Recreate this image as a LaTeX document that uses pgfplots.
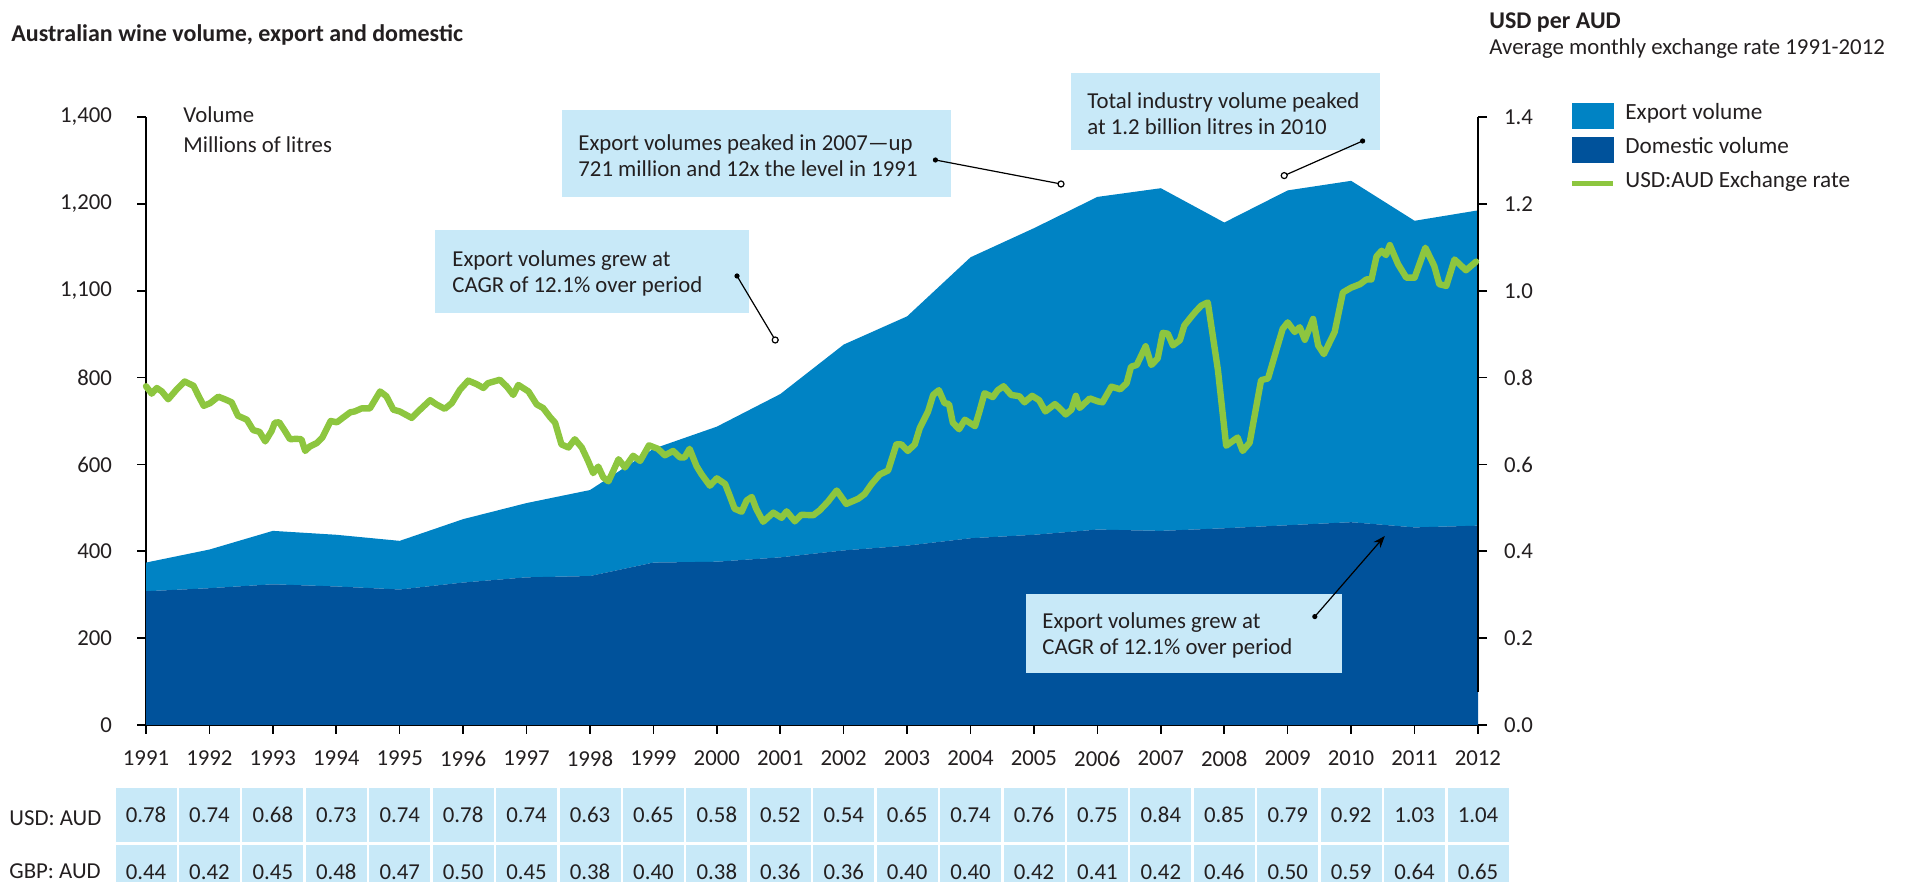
\documentclass[border=0pt]{standalone}
\usepackage{fontspec}
\setmainfont{Carlito}
\usepackage{pgfplots}
\pgfplotsset{compat=1.18}
\usepackage{pgfplotstable}
\usetikzlibrary{arrows.meta}

\definecolor{expblue}{HTML}{0083C4}
\definecolor{domblue}{HTML}{00529B}
\definecolor{fxgreen}{HTML}{8DC63F}
\definecolor{boxblue}{HTML}{C8E9F8}
\definecolor{txt}{HTML}{231F20}

% volumes, millions of litres
\pgfplotstableread{
year domestic export
1991 308 66
1992 315 89
1993 324 123
1994 319 119
1995 312 112
1996 328 146
1997 340 171
1998 343 198
1999 374 262
2000 376 311
2001 386 376
2002 402 474
2003 413 528
2004 430 647
2005 438 706
2006 450 766
2007 447 789
2008 453 704
2009 460 771
2010 467 786
2011 455 706
2012 459 726
}\volumes

% yearly averages for the table under the chart
\pgfplotstableread{
year usd gbp
1991 0.78 0.44
1992 0.74 0.42
1993 0.68 0.45
1994 0.73 0.48
1995 0.74 0.47
1996 0.78 0.50
1997 0.74 0.45
1998 0.63 0.38
1999 0.65 0.40
2000 0.58 0.38
2001 0.52 0.36
2002 0.54 0.36
2003 0.65 0.40
2004 0.74 0.40
2005 0.76 0.42
2006 0.75 0.41
2007 0.84 0.42
2008 0.85 0.46
2009 0.79 0.50
2010 0.92 0.59
2011 1.03 0.64
2012 1.04 0.65
}\rates

% monthly USD per AUD
\pgfplotstableread{
t v
1991.00 0.780
1991.09 0.763
1991.17 0.776
1991.25 0.768
1991.35 0.750
1991.48 0.772
1991.61 0.791
1991.75 0.781
1991.82 0.760
1991.91 0.735
1992.01 0.741
1992.14 0.756
1992.26 0.749
1992.35 0.743
1992.45 0.712
1992.59 0.703
1992.69 0.679
1992.79 0.675
1992.88 0.653
1992.98 0.677
1993.03 0.696
1993.10 0.697
1993.19 0.677
1993.27 0.658
1993.37 0.659
1993.45 0.658
1993.51 0.631
1993.58 0.641
1993.69 0.649
1993.78 0.662
1993.91 0.700
1994.01 0.697
1994.10 0.707
1994.22 0.720
1994.29 0.722
1994.40 0.729
1994.53 0.729
1994.69 0.768
1994.79 0.757
1994.90 0.726
1995.00 0.722
1995.19 0.707
1995.32 0.726
1995.48 0.748
1995.58 0.738
1995.71 0.728
1995.82 0.741
1995.95 0.772
1996.08 0.793
1996.21 0.785
1996.32 0.776
1996.39 0.787
1996.58 0.795
1996.69 0.779
1996.79 0.760
1996.87 0.783
1997.03 0.768
1997.16 0.738
1997.26 0.730
1997.37 0.709
1997.45 0.696
1997.55 0.646
1997.66 0.639
1997.76 0.658
1997.87 0.639
1997.97 0.608
1998.05 0.580
1998.13 0.595
1998.21 0.570
1998.29 0.561
1998.37 0.586
1998.45 0.612
1998.55 0.593
1998.68 0.620
1998.79 0.608
1998.93 0.644
1999.07 0.636
1999.18 0.621
1999.31 0.631
1999.42 0.616
1999.49 0.616
1999.57 0.636
1999.68 0.596
1999.76 0.577
1999.89 0.551
2000.00 0.568
2000.13 0.555
2000.20 0.529
2000.28 0.498
2000.39 0.491
2000.47 0.517
2000.55 0.525
2000.62 0.498
2000.73 0.468
2000.89 0.489
2001.02 0.477
2001.10 0.492
2001.23 0.469
2001.33 0.484
2001.52 0.483
2001.62 0.494
2001.75 0.514
2001.89 0.540
2002.04 0.509
2002.23 0.521
2002.33 0.532
2002.44 0.555
2002.57 0.577
2002.70 0.586
2002.83 0.646
2002.91 0.646
2003.01 0.631
2003.12 0.646
2003.20 0.684
2003.33 0.722
2003.41 0.760
2003.50 0.771
2003.59 0.741
2003.66 0.739
2003.72 0.696
2003.82 0.681
2003.91 0.703
2004.07 0.688
2004.14 0.722
2004.22 0.764
2004.35 0.755
2004.43 0.771
2004.52 0.780
2004.64 0.760
2004.77 0.757
2004.85 0.743
2004.97 0.758
2005.08 0.748
2005.18 0.722
2005.33 0.739
2005.40 0.730
2005.50 0.715
2005.59 0.726
2005.66 0.758
2005.72 0.730
2005.88 0.752
2006.01 0.745
2006.08 0.743
2006.22 0.779
2006.36 0.773
2006.46 0.787
2006.53 0.825
2006.62 0.829
2006.76 0.872
2006.85 0.829
2006.95 0.844
2007.03 0.903
2007.11 0.901
2007.19 0.874
2007.30 0.886
2007.37 0.920
2007.48 0.940
2007.56 0.954
2007.64 0.966
2007.74 0.973
2007.90 0.817
2008.03 0.643
2008.21 0.662
2008.29 0.631
2008.40 0.650
2008.58 0.794
2008.69 0.798
2008.82 0.863
2008.92 0.912
2009.00 0.927
2009.11 0.905
2009.19 0.916
2009.27 0.887
2009.40 0.935
2009.48 0.874
2009.57 0.854
2009.74 0.905
2009.87 0.996
2010.00 1.007
2010.14 1.015
2010.24 1.026
2010.32 1.026
2010.40 1.079
2010.48 1.092
2010.55 1.082
2010.61 1.105
2010.74 1.061
2010.87 1.030
2011.00 1.030
2011.17 1.099
2011.31 1.057
2011.39 1.015
2011.50 1.011
2011.63 1.072
2011.81 1.047
2011.97 1.067
}\fx

\newcommand\bodyfont{\fontsize{11.4pt}{13pt}\selectfont}

\pgfplotsset{
  common/.style={
    at={(73pt,78.5pt)}, anchor=south west,
    width=666pt, height=304pt, scale only axis,
    xmin=1991, xmax=2012,
    tick align=outside, major tick length=4.5pt,
    every tick/.style={black, line width=0.8pt},
    axis line style={black, line width=1pt},
    tick label style={font=\bodyfont, text=txt},
  },
  ratecells/.style={forget plot, only marks, mark=*, mark size=0pt,
    mark options={draw=boxblue, fill=boxblue},
    point meta=explicit symbolic, nodes near coords={\pgfplotspointmeta},
    every node near coord/.style={anchor=center, fill=boxblue, text=txt,
      font=\bodyfont, minimum width=30.5pt, minimum height=27pt, inner sep=0pt}},
}

\begin{document}
\begin{tikzpicture}[font=\bodyfont]
\path[use as bounding box, clip] (0pt,0pt) rectangle (952.5pt,441pt);

\begin{axis}[common,
  ymin=0, ymax=1400,
  axis x line*=bottom, axis y line*=left,
  xtick={1991,...,2012},
  xticklabels={1991,1992,1993,1994,1995,1996,1997,1998,1999,2000,2001,2002,2003,2004,2005,2006,2007,2008,2009,2010,2011,2012},
  xticklabel style={yshift=-5pt},
  ytick={0,200,400,600,800,1000,1200,1400},
  yticklabels={0,200,400,600,800,{1,100},{1,200},{1,400}},
  yticklabel style={xshift=-9pt},
  stack plots=y,
]
\addplot[fill=domblue, draw=none] table[x=year, y=domestic] {\volumes} \closedcycle;
\addplot[fill=expblue, draw=none] table[x=year, y=export] {\volumes} \closedcycle;
\end{axis}

\begin{axis}[common,
  ymin=0, ymax=1.4,
  axis x line=none, axis y line*=right,
  y axis line style={draw=none},
  ytick={0,0.2,0.4,0.6,0.8,1,1.2,1.4},
  yticklabels={0.0,0.2,0.4,0.6,0.8,1.0,1.2,1.4},
  yticklabel style={xshift=5pt},
  clip=false,
  legend style={at={(axis description cs:1.0678,1.0242)}, anchor=north west,
    draw=none, fill=none, inner sep=0pt, row sep=4.25pt,
    nodes={inner sep=0pt, text=txt},
    /tikz/every odd column/.append style={column sep=5pt},
    font=\fontsize{11.6pt}{13pt}\selectfont},
  legend cell align=left,
]
\draw[black, line width=1pt] (axis cs:2012,0.075) -- (axis cs:2012,1.4);
\addlegendimage{legend image code/.code={\fill[expblue] (0pt,-6.25pt) rectangle (20.5pt,6.25pt);}}
\addlegendentry{\raisebox{3pt}{Export volume}}
\addlegendimage{legend image code/.code={\fill[domblue] (0pt,-6.25pt) rectangle (20.5pt,6.25pt);}}
\addlegendentry{\raisebox{3pt}{Domestic volume}}
\addplot[fxgreen, line width=3.2pt, line join=round, line cap=round,
  legend image code/.code={\path (0pt,-6.7pt); \draw[fxgreen, line width=2.5pt, line cap=butt] (0pt,0pt) -- (20.5pt,0pt);}]
  table[x=t, y=v] {\fx};
\addlegendentry{\raisebox{3pt}{USD:AUD Exchange rate}}
% table of yearly averages
\addplot[ratecells] table[x=year, y expr=-0.2072, meta=usd] {\rates};
\addplot[ratecells] table[x=year, y expr=-0.3385, meta=gbp] {\rates};
\end{axis}

% titles
\node[anchor=west, font=\fontsize{12pt}{14pt}\selectfont\bfseries, text=txt, inner sep=0pt] at (5.5pt,423.5pt) {Australian wine volume, export and domestic};
\node[anchor=west, font=\fontsize{12pt}{14pt}\selectfont\bfseries, text=txt, inner sep=0pt] at (744.5pt,429.5pt) {USD per AUD};
\node[anchor=west, text=txt, inner sep=0pt] at (744.5pt,416.5pt) {Average monthly exchange rate 1991-2012};
\node[anchor=west, text=txt, inner sep=0pt] at (91.5pt,383.5pt) {Volume};
\node[anchor=west, text=txt, inner sep=0pt] at (91.5pt,368.5pt) {Millions of litres};
\node[anchor=west, text=txt, inner sep=0pt] at (4.5pt,32pt) {USD: AUD};
\node[anchor=west, text=txt, inner sep=0pt] at (4.5pt,5.5pt) {GBP: AUD};

% call-out boxes
\fill[boxblue] (217.7pt,284.7pt) rectangle (374.6pt,326pt);
\node[anchor=west, align=left, text=txt, inner sep=0pt] at (226pt,304.5pt) {Export volumes grew at\\CAGR of 12.1\% over period};
\draw[line width=0.6pt] (368.5pt,303pt) -- (387.6pt,271pt);
\fill (368.5pt,303pt) circle (1.3pt);
\draw[line width=0.6pt, fill=white] (387.6pt,271pt) circle (1.5pt);

\fill[boxblue] (280.8pt,342.4pt) rectangle (475.6pt,386pt);
\node[anchor=west, align=left, text=txt, inner sep=0pt] at (289pt,363.3pt) {Export volumes peaked in 2007---up\\721 million and 12x the level in 1991};
\draw[line width=0.6pt] (467.7pt,361pt) -- (530.5pt,349pt);
\fill (467.7pt,361pt) circle (1.3pt);
\draw[line width=0.6pt, fill=white] (530.5pt,349pt) circle (1.5pt);

\fill[boxblue] (535.3pt,366pt) rectangle (689.9pt,404.5pt);
\node[anchor=west, align=left, text=txt, inner sep=0pt] at (543.5pt,384.4pt) {Total industry volume peaked\\at 1.2 billion litres in 2010};
\draw[line width=0.6pt] (681.3pt,370.5pt) -- (642.1pt,353.2pt);
\fill (681.3pt,370.5pt) circle (1.3pt);
\draw[line width=0.6pt, fill=white] (642.1pt,353.2pt) circle (1.5pt);

\fill[boxblue] (513.2pt,104.4pt) rectangle (671.2pt,143.9pt);
\node[anchor=west, align=left, text=txt, inner sep=0pt] at (521pt,123.5pt) {Export volumes grew at\\CAGR of 12.1\% over period};
\draw[line width=0.6pt, -{Stealth[length=6pt, width=4.5pt]}] (657.4pt,132.7pt) -- (692.4pt,173pt);
\fill (657.4pt,132.7pt) circle (1.3pt);
\end{tikzpicture}
\end{document}
